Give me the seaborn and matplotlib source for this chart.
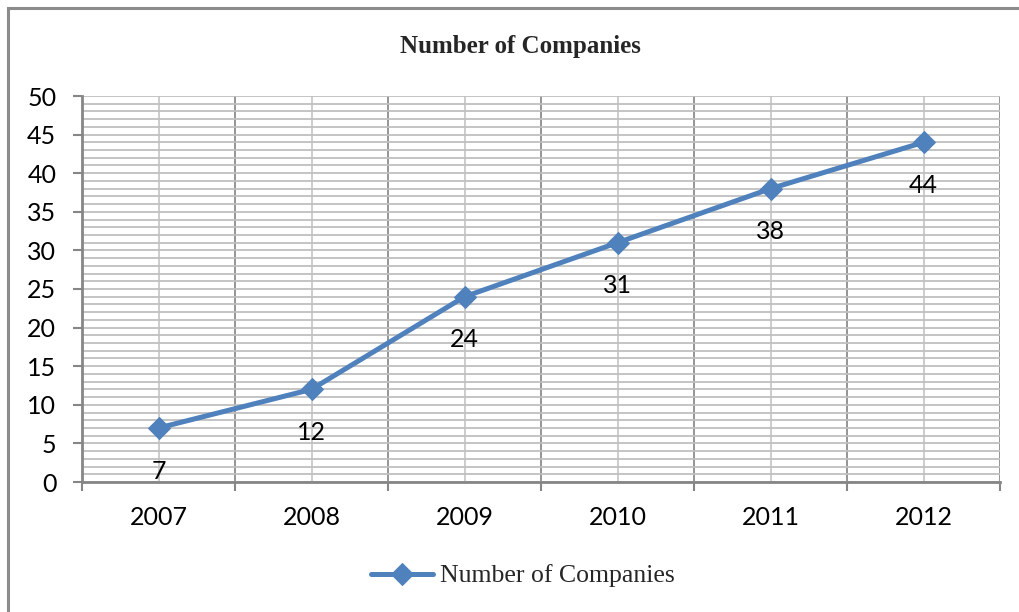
import matplotlib
matplotlib.use("Agg")
import matplotlib.pyplot as plt
import seaborn as sns
import pandas as pd
from matplotlib.ticker import MultipleLocator, FixedLocator
from matplotlib.patches import Rectangle

years = ["2007", "2008", "2009", "2010", "2011", "2012"]
companies = [7, 12, 24, 31, 38, 44]
series_name = "Number of Companies"

df = pd.DataFrame({"Year": years, series_name: companies})

sns.set_theme(style="white")
plt.rcParams["font.family"] = ["Lato", "DejaVu Sans"]

fig = plt.figure(figsize=(10.19, 6.12), dpi=100)
ax = fig.add_axes([82/1019, 1-482/612, (1000-82)/1019, (482-96)/612])

color = "#4F81BD"
sns.lineplot(data=df, x="Year", y=series_name, ax=ax, color=color, linewidth=3.6,
             marker="D", markersize=11, markeredgecolor=color, label=series_name,
             sort=False, zorder=5)

ax.set_xlim(-0.5, len(years) - 0.5)
ax.set_ylim(0, 50)
ax.set_xlabel("")
ax.set_ylabel("")

ax.yaxis.set_major_locator(MultipleLocator(5))
ax.yaxis.set_minor_locator(MultipleLocator(1))
ax.xaxis.set_minor_locator(FixedLocator([i - 0.5 for i in range(len(years) + 1)]))

ax.grid(True, which="major", axis="y", color="#bfbfbf", linewidth=1.3)
ax.grid(True, which="minor", axis="y", color="#bfbfbf", linewidth=1.3)
ax.grid(True, which="major", axis="x", color="#c8c8c8", linewidth=1.3)
ax.grid(True, which="minor", axis="x", color="#8c8c8c", linewidth=1.3)
ax.set_axisbelow(True)

for s in ["top", "right"]:
    ax.spines[s].set_visible(False)
for s in ["left", "bottom"]:
    ax.spines[s].set_color("#868686")
    ax.spines[s].set_linewidth(2)

ax.tick_params(axis="x", which="major", length=0, labelsize=18, pad=17, colors="black")
ax.tick_params(axis="x", which="minor", length=6.5, width=1.5, color="#868686", direction="out", bottom=True)
ax.tick_params(axis="y", which="major", length=6.5, width=1.5, color="#868686", labelsize=18, pad=12, left=True, labelcolor="black")
ax.tick_params(axis="y", which="minor", length=0)

for i, v in enumerate(companies):
    ax.annotate(str(v), (i, v), xytext=(0, -31), textcoords="offset points",
                ha="center", va="center", fontsize=18, color="black", zorder=6)

fig.text(520/1019, 1 - 46/612, "Number of Companies", ha="center", va="center",
         fontsize=18, fontweight="bold", family=["Liberation Serif", "DejaVu Serif"])

ax.get_legend().remove()
handles, labels = ax.get_legend_handles_labels()
leg = fig.legend(handles, labels, loc="center", bbox_to_anchor=(523/1019, 1 - 576/612),
                 frameon=False, handlelength=2.4, handletextpad=0.3,
                 prop={"family": ["Liberation Serif", "DejaVu Serif"], "size": 18.5})

fig.patches.append(Rectangle((8/1019, -0.1), 1.2, 1 - 8/612 + 0.1, transform=fig.transFigure,
                             fill=False, edgecolor="#8c8c8c", linewidth=2.2))

fig.savefig("out.png", dpi=100, facecolor="white")
